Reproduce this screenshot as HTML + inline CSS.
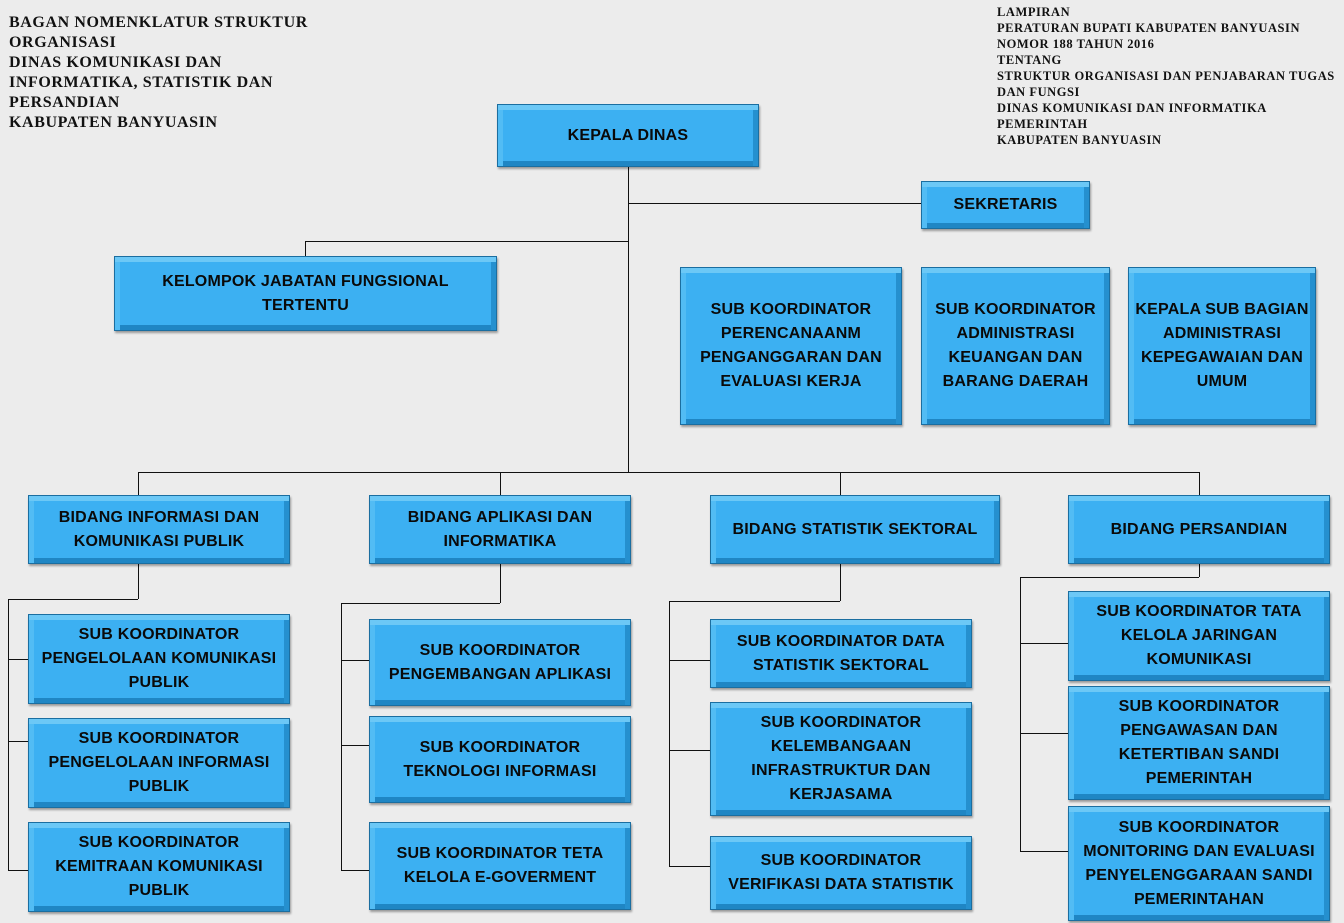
<!DOCTYPE html>
<html><head><meta charset="utf-8"><style>
body{margin:0;width:1344px;height:923px;background:#ececec;position:relative;overflow:hidden;font-family:"Liberation Sans",sans-serif}
.b{position:absolute;box-sizing:border-box;background:#3cb0f2;border:1px solid #1b6ea0;box-shadow:inset 0 5px 0 #6cc8f6,inset 5px 0 0 #52bcf4,inset -5px 0 0 #2590cf,inset 0 -5px 0 #1f86c4,1px 2px 2px rgba(0,0,0,.35);display:flex;align-items:center;justify-content:center;text-align:center;font-weight:bold;font-size:16px;line-height:24px;color:#0a0a0a;padding:0 6px;letter-spacing:0.2px}
.h{position:absolute;background:#111;height:1px}
.v{position:absolute;background:#111;width:1px}
.t{position:absolute;font-family:"Liberation Serif",serif;font-weight:bold;color:#111}
</style></head><body>
<div class="t" style="left:9px;top:13px;font-size:16px;line-height:20px;letter-spacing:0.6px">BAGAN NOMENKLATUR STRUKTUR<br>ORGANISASI<br>DINAS KOMUNIKASI DAN<br>INFORMATIKA, STATISTIK DAN<br>PERSANDIAN<br>KABUPATEN BANYUASIN</div>
<div class="t" style="left:997px;top:4px;font-size:12.5px;line-height:16px;letter-spacing:0.55px">LAMPIRAN<br>PERATURAN BUPATI KABUPATEN BANYUASIN<br>NOMOR 188 TAHUN 2016<br>TENTANG<br>STRUKTUR ORGANISASI DAN PENJABARAN TUGAS<br>DAN FUNGSI<br>DINAS KOMUNIKASI DAN INFORMATIKA<br>PEMERINTAH<br>KABUPATEN BANYUASIN</div>

<div class="v" style="left:628px;top:167px;height:305px"></div>
<div class="h" style="left:628px;top:203px;width:293px"></div>
<div class="h" style="left:305px;top:241px;width:323px"></div>
<div class="v" style="left:305px;top:241px;height:15px"></div>
<div class="h" style="left:138px;top:472px;width:1061px"></div>
<div class="v" style="left:138px;top:472px;height:23px"></div>
<div class="v" style="left:500px;top:472px;height:23px"></div>
<div class="v" style="left:840px;top:472px;height:23px"></div>
<div class="v" style="left:1199px;top:472px;height:23px"></div>
<div class="v" style="left:138px;top:564px;height:35px"></div>
<div class="h" style="left:8px;top:599px;width:130px"></div>
<div class="v" style="left:8px;top:599px;height:271px"></div>
<div class="h" style="left:8px;top:659px;width:20px"></div>
<div class="h" style="left:8px;top:741px;width:20px"></div>
<div class="h" style="left:8px;top:870px;width:20px"></div>
<div class="v" style="left:500px;top:564px;height:39px"></div>
<div class="h" style="left:341px;top:603px;width:159px"></div>
<div class="v" style="left:341px;top:603px;height:267px"></div>
<div class="h" style="left:341px;top:660px;width:28px"></div>
<div class="h" style="left:341px;top:745px;width:28px"></div>
<div class="h" style="left:341px;top:870px;width:28px"></div>
<div class="v" style="left:840px;top:564px;height:37px"></div>
<div class="h" style="left:669px;top:601px;width:171px"></div>
<div class="v" style="left:669px;top:601px;height:265px"></div>
<div class="h" style="left:669px;top:660px;width:41px"></div>
<div class="h" style="left:669px;top:750px;width:41px"></div>
<div class="h" style="left:669px;top:866px;width:41px"></div>
<div class="v" style="left:1199px;top:564px;height:13px"></div>
<div class="h" style="left:1020px;top:577px;width:179px"></div>
<div class="v" style="left:1020px;top:577px;height:274px"></div>
<div class="h" style="left:1020px;top:643px;width:48px"></div>
<div class="h" style="left:1020px;top:733px;width:48px"></div>
<div class="h" style="left:1020px;top:851px;width:48px"></div>

<div class="b" style="left:497px;top:104px;width:262px;height:63px">KEPALA DINAS</div>
<div class="b" style="left:921px;top:181px;width:169px;height:48px">SEKRETARIS</div>
<div class="b" style="left:114px;top:256px;width:383px;height:75px">KELOMPOK JABATAN FUNGSIONAL<br>TERTENTU</div>
<div class="b" style="left:680px;top:267px;width:222px;height:158px">SUB KOORDINATOR PERENCANAANM PENGANGGARAN DAN EVALUASI KERJA</div>
<div class="b" style="left:921px;top:267px;width:189px;height:158px">SUB KOORDINATOR ADMINISTRASI KEUANGAN DAN BARANG DAERAH</div>
<div class="b" style="left:1128px;top:267px;width:188px;height:158px">KEPALA SUB BAGIAN ADMINISTRASI KEPEGAWAIAN DAN UMUM</div>

<div class="b" style="left:28px;top:495px;width:262px;height:69px">BIDANG INFORMASI DAN KOMUNIKASI PUBLIK</div>
<div class="b" style="left:369px;top:495px;width:262px;height:69px">BIDANG APLIKASI DAN INFORMATIKA</div>
<div class="b" style="left:710px;top:495px;width:290px;height:69px">BIDANG STATISTIK SEKTORAL</div>
<div class="b" style="left:1068px;top:495px;width:262px;height:69px">BIDANG PERSANDIAN</div>

<div class="b" style="left:28px;top:614px;width:262px;height:90px">SUB KOORDINATOR PENGELOLAAN KOMUNIKASI PUBLIK</div>
<div class="b" style="left:28px;top:718px;width:262px;height:90px">SUB KOORDINATOR PENGELOLAAN INFORMASI PUBLIK</div>
<div class="b" style="left:28px;top:822px;width:262px;height:90px">SUB KOORDINATOR KEMITRAAN KOMUNIKASI PUBLIK</div>

<div class="b" style="left:369px;top:619px;width:262px;height:87px">SUB KOORDINATOR PENGEMBANGAN APLIKASI</div>
<div class="b" style="left:369px;top:716px;width:262px;height:87px">SUB KOORDINATOR TEKNOLOGI INFORMASI</div>
<div class="b" style="left:369px;top:822px;width:262px;height:88px">SUB KOORDINATOR TETA KELOLA E-GOVERMENT</div>

<div class="b" style="left:710px;top:619px;width:262px;height:69px">SUB KOORDINATOR DATA STATISTIK SEKTORAL</div>
<div class="b" style="left:710px;top:702px;width:262px;height:114px">SUB KOORDINATOR KELEMBANGAAN INFRASTRUKTUR DAN KERJASAMA</div>
<div class="b" style="left:710px;top:836px;width:262px;height:74px">SUB KOORDINATOR VERIFIKASI DATA STATISTIK</div>

<div class="b" style="left:1068px;top:591px;width:262px;height:90px">SUB KOORDINATOR TATA KELOLA JARINGAN KOMUNIKASI</div>
<div class="b" style="left:1068px;top:686px;width:262px;height:114px">SUB KOORDINATOR PENGAWASAN DAN KETERTIBAN SANDI PEMERINTAH</div>
<div class="b" style="left:1068px;top:806px;width:262px;height:115px">SUB KOORDINATOR MONITORING DAN EVALUASI PENYELENGGARAAN SANDI PEMERINTAHAN</div>
</body></html>
